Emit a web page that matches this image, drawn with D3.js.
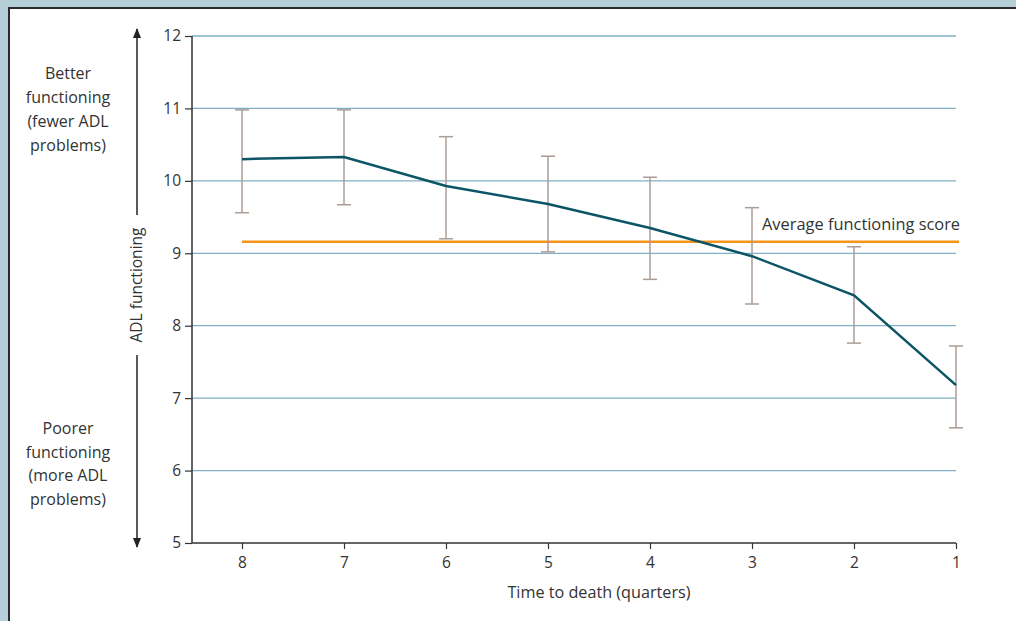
<!DOCTYPE html>
<html><head><meta charset="utf-8">
<script src="https://cdn.jsdelivr.net/npm/d3@7"></script>
<style>
body{margin:0;background:#b5cfd9;}
svg{display:block;font-family:"Open Sans",sans-serif;}
</style></head><body>
<svg id="c" width="1016" height="621"></svg>
<script>
const quarters = [8,7,6,5,4,3,2,1];
const meanScore = [10.30,10.33,9.93,9.68,9.35,8.96,8.42,7.18];
const upperCI = [10.98,10.98,10.61,10.34,10.05,9.63,9.09,7.72];
const lowerCI = [9.56,9.67,9.20,9.02,8.64,8.30,7.76,6.59];
const averageScore = 9.16;
const yTicks = [5,6,7,8,9,10,11,12];

const svg = d3.select("#c");
svg.append("rect").attr("x",9).attr("y",8).attr("width",1020).attr("height",620)
  .attr("fill","#fff").attr("stroke","#2b2b2b").attr("stroke-width",2);

const x = d3.scalePoint().domain(quarters).range([242,956]);
const y = d3.scaleLinear().domain([5,12]).range([543,36]);
const gridX0 = 192, gridX1 = 956;

// gridlines
svg.append("g").selectAll("line").data(yTicks.filter(d=>d>5)).join("line")
  .attr("x1",gridX0).attr("x2",gridX1).attr("y1",d=>y(d)).attr("y2",d=>y(d))
  .attr("stroke","#7fb0c3").attr("stroke-width",1.3);

// y axis
const yAxis = svg.append("g").attr("transform",`translate(${gridX0},0)`)
  .call(d3.axisLeft(y).tickValues(yTicks).tickSize(7).tickPadding(4).tickFormat(d3.format("d")));
yAxis.attr("font-size",null).attr("font-family",null);
yAxis.select(".domain").attr("stroke","#333").attr("stroke-width",1.5).attr("d",`M0,${y(12)}V${y(5)}`);
yAxis.selectAll(".tick line").attr("stroke","#333").attr("stroke-width",1.2);
yAxis.selectAll("text").style("font-size","15.5px").attr("fill","#333");

// x axis
const xAxis = svg.append("g").attr("transform",`translate(0,${y(5)})`)
  .call(d3.axisBottom(x).tickSize(6).tickPadding(8));
xAxis.attr("font-size",null).attr("font-family",null);
xAxis.select(".domain").attr("stroke","#333").attr("stroke-width",1.5).attr("d",`M${gridX0},0H${gridX1}`);
xAxis.selectAll(".tick line").attr("stroke","#333").attr("stroke-width",1.2);
xAxis.selectAll("text").style("font-size","15.5px").attr("fill","#333");

svg.append("text").attr("x",(x(8)+x(1))/2).attr("y",598).attr("text-anchor","middle")
  .style("font-size","16.2px").attr("fill","#333").text("Time to death (quarters)");

// average line
svg.append("line").attr("x1",x(8)).attr("x2",959).attr("y1",y(averageScore)).attr("y2",y(averageScore))
  .attr("stroke","#f7941d").attr("stroke-width",2.5);
svg.append("text").attr("x",762).attr("y",230).style("font-size",
  "16.4px").attr("fill","#333").text("Average functioning score");

// error bars
const eb = svg.append("g").attr("stroke","#ab9c96").attr("stroke-width",1.5);
quarters.forEach((q,i)=>{
  eb.append("line").attr("x1",x(q)).attr("x2",x(q)).attr("y1",y(upperCI[i])).attr("y2",y(lowerCI[i]));
  eb.append("line").attr("x1",x(q)-7).attr("x2",x(q)+7).attr("y1",y(upperCI[i])).attr("y2",y(upperCI[i]));
  eb.append("line").attr("x1",x(q)-7).attr("x2",x(q)+7).attr("y1",y(lowerCI[i])).attr("y2",y(lowerCI[i]));
});

// mean line
svg.append("path").datum(quarters.map((q,i)=>[x(q),y(meanScore[i])]))
  .attr("d",d3.line()).attr("fill","none").attr("stroke","#0b5566").attr("stroke-width",2.5);

// left annotation arrow
const ax = 137;
svg.append("defs").html(`<marker id="ah" viewBox="0 0 10 8" refX="9" refY="4" markerWidth="10" markerHeight="8" orient="auto" markerUnits="userSpaceOnUse"><path d="M0,0L10,4L0,8Z" fill="#222"/></marker>`);
svg.append("line").attr("x1",ax).attr("x2",ax).attr("y1",215).attr("y2",29).attr("stroke","#222").attr("stroke-width",1.5).attr("marker-end","url(#ah)");
svg.append("line").attr("x1",ax).attr("x2",ax).attr("y1",355).attr("y2",547).attr("stroke","#222").attr("stroke-width",1.5).attr("marker-end","url(#ah)");
svg.append("text").attr("transform",`translate(${ax+5},285) rotate(-90)`).attr("text-anchor","middle")
  .style("font-size","15.5px").attr("fill","#333").text("ADL functioning");

const better = ["Better","functioning","(fewer ADL","problems)"];
const poorer = ["Poorer","functioning","(more ADL","problems)"];
svg.append("text").attr("text-anchor","middle").style("font-size","16px").attr("fill","#333")
  .selectAll("tspan").data(better).join("tspan").attr("x",68).attr("y",(d,i)=>79+i*24).text(d=>d);
svg.append("text").attr("text-anchor","middle").style("font-size","16px").attr("fill","#333")
  .selectAll("tspan").data(poorer).join("tspan").attr("x",68).attr("y",(d,i)=>434+i*23.5).text(d=>d);
</script></body></html>
